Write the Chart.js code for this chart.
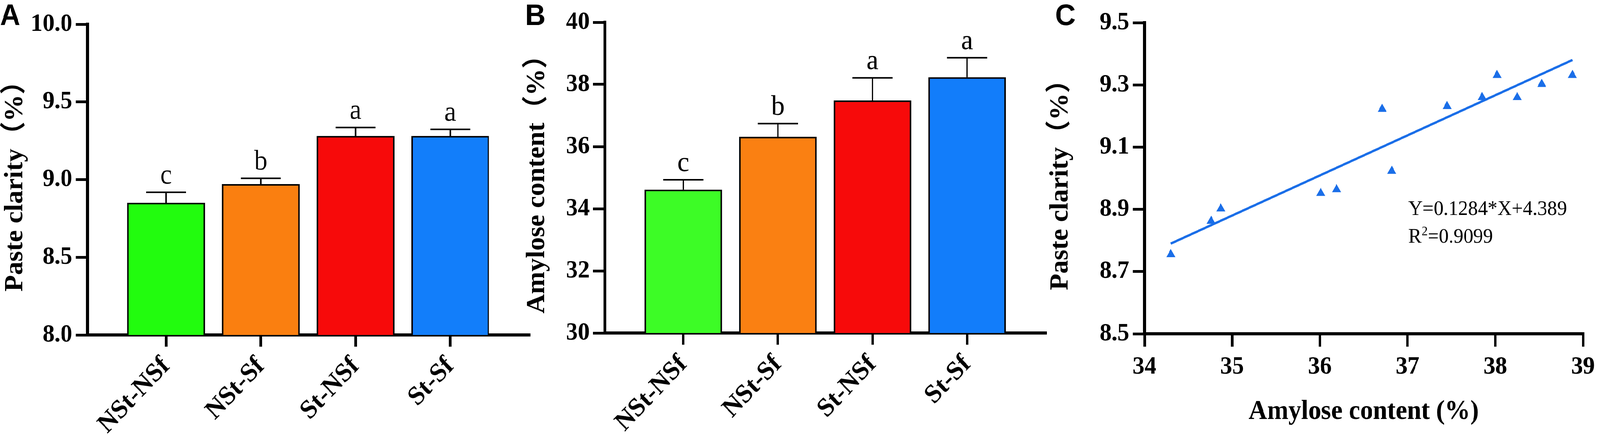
<!DOCTYPE html>
<html>
<head>
<meta charset="utf-8">
<script src="https://cdn.jsdelivr.net/npm/chart.js@4.4.1/dist/chart.umd.min.js"></script>
<style>
  html, body { margin: 0; padding: 0; background: #fff; overflow: hidden; }
  #sheet { width: 4317px; height: 1113px; position: relative; transform-origin: 0 0; }
  canvas { position: absolute; top: 0; }
</style>
</head>
<body>
<div id="sheet">
  <canvas id="chartA" width="1445" height="1113" style="left:0px"></canvas>
  <canvas id="chartB" width="1440" height="1113" style="left:1400px"></canvas>
  <canvas id="chartC" width="1497" height="1113" style="left:2820px"></canvas>
</div>
<script>
// treatments
const treatments = ['NSt-NSf', 'NSt-Sf', 'St-NSf', 'St-Sf'];

// panel A: paste clarity (%)
const clarityMean = [8.85, 8.97, 9.28, 9.28];
const claritySD = [0.068, 0.038, 0.055, 0.043];
const clarityLetters = ['c', 'b', 'a', 'a'];
const clarityTicks = [8.0, 8.5, 9.0, 9.5, 10.0];

// panel B: amylose content (%)
const amyloseMean = [34.61, 36.31, 37.48, 38.23];
const amyloseSD = [0.32, 0.43, 0.73, 0.63];
const amyloseLetters = ['c', 'b', 'a', 'a'];
const amyloseTicks = [30, 32, 34, 36, 38, 40];

// panel C: scatter of amylose vs paste clarity
const scatterX = [34.30, 34.76, 34.87, 36.01, 36.19, 36.71, 36.82, 37.45, 37.85, 38.02, 38.25, 38.53, 38.88];
const scatterY = [8.755, 8.862, 8.902, 8.952, 8.964, 9.222, 9.023, 9.231, 9.26, 9.331, 9.26, 9.302, 9.331];
const fitX = [34.30, 38.88];
const fitY = [8.79, 9.38];
const scatterXTicks = [34, 35, 36, 37, 38, 39];
const scatterYTicks = [8.5, 8.7, 8.9, 9.1, 9.3, 9.5];

const barColorsA = ['#22fc0e', '#fa7f10', '#f70a0a', '#127efa'];
const barColorsB = ['#3dfc26', '#fa8012', '#f70a0a', '#127dfa'];
const dotBlue = '#1a6ee8';

// the window may be narrower than the figure; squeeze the sheet to fit
const sheetScale = Math.min(1, window.innerWidth / 4317);
document.getElementById('sheet').style.transform = 'scale(' + sheetScale + ', 1)';

const SERIF = "'Liberation Serif', 'Times New Roman', 'Noto Sans CJK SC', serif";
const SANS = "'Liberation Sans', Arial, sans-serif";
const tickFont = { family: SERIF, size: 64, weight: 'bold' };
const titleFont = { family: SERIF, size: 69, weight: 'bold' };

// error bars + significance letters
const barDecor = {
  id: 'barDecor',
  afterDatasetsDraw(chart, args, opts) {
    const ctx = chart.ctx;
    const ys = chart.scales.y;
    ctx.save();
    ctx.strokeStyle = '#000';
    ctx.fillStyle = '#000';
    ctx.lineWidth = 4;
    ctx.font = '72px ' + SERIF;
    ctx.textAlign = 'center';
    ctx.textBaseline = 'alphabetic';
    chart.getDatasetMeta(0).data.forEach((bar, i) => {
      const capY = ys.getPixelForValue(opts.mean[i] + opts.sd[i]);
      ctx.beginPath();
      ctx.moveTo(bar.x, bar.y);
      ctx.lineTo(bar.x, capY);
      ctx.moveTo(bar.x - 54, capY);
      ctx.lineTo(bar.x + 54, capY);
      ctx.stroke();
      ctx.fillText(opts.letters[i], bar.x, capY - 22);
    });
    ctx.restore();
  }
};

// panel letter
const panelTag = {
  id: 'panelTag',
  afterDraw(chart, args, opts) {
    const ctx = chart.ctx;
    ctx.save();
    ctx.fillStyle = '#000';
    ctx.font = 'bold 76px ' + SANS;
    ctx.textAlign = 'left';
    ctx.textBaseline = 'alphabetic';
    ctx.fillText(opts.text, opts.x, opts.y);
    ctx.restore();
  }
};

// regression equation
const equation = {
  id: 'equation',
  afterDraw(chart, args, opts) {
    const ctx = chart.ctx;
    ctx.save();
    ctx.fillStyle = '#000';
    ctx.textAlign = 'left';
    ctx.textBaseline = 'alphabetic';
    ctx.font = '53px ' + SERIF;
    ctx.fillText('Y=0.1284*X+4.389', opts.x, opts.y);
    ctx.fillText('R', opts.x, opts.y + 71);
    let w = ctx.measureText('R').width;
    ctx.font = '34px ' + SERIF;
    ctx.fillText('2', opts.x + w, opts.y + 52);
    w += ctx.measureText('2').width;
    ctx.font = '53px ' + SERIF;
    ctx.fillText('=0.9099', opts.x + w, opts.y + 71);
    ctx.restore();
  }
};

function axisGrid(len) {
  return { drawOnChartArea: false, drawTicks: true, offset: false, color: '#000', lineWidth: 7, tickLength: len };
}
const axisBorder = { display: true, color: '#000', width: 8 };

function barChart(id, mean, sd, letters, colors, yTicks, yTitle, opts) {
  return new Chart(document.getElementById(id), {
    type: 'bar',
    data: {
      datasets: [{
        data: mean.map((v, i) => ({ x: i, y: v })),
        backgroundColor: colors,
        borderColor: '#000',
        borderWidth: 4,
        barThickness: 209
      }]
    },
    options: {
      responsive: false,
      animation: false,
      devicePixelRatio: 1,
      layout: { padding: { top: opts.top, right: opts.right, left: 0, bottom: 0 } },
      plugins: {
        legend: { display: false },
        tooltip: { enabled: false },
        barDecor: { mean: mean, sd: sd, letters: letters },
        panelTag: { text: opts.tag, x: opts.tagX, y: 64 }
      },
      scales: {
        x: {
          type: 'linear',
          offset: false,
          min: -0.83,
          max: 3.83,
          grid: axisGrid(30),
          border: axisBorder,
          afterBuildTicks: s => { s.ticks = treatments.map((t, i) => ({ value: i })); },
          afterFit: s => { s.height = opts.xh; },
          ticks: {
            autoSkip: false,
            minRotation: 45,
            maxRotation: 45,
            padding: 11,
            color: '#000',
            font: { family: SERIF, size: 68, weight: 'bold' },
            callback: (v, i) => treatments[i]
          }
        },
        y: {
          min: yTicks[0],
          max: yTicks[yTicks.length - 1],
          grid: axisGrid(32),
          border: axisBorder,
          afterBuildTicks: s => { s.ticks = yTicks.map(v => ({ value: v })); },
          afterFit: s => { s.width = opts.yw; },
          ticks: {
            padding: 9,
            color: '#000',
            font: tickFont,
            callback: v => opts.fmt(v)
          },
          title: {
            display: true,
            text: yTitle,
            color: '#000',
            font: titleFont,
            padding: { top: opts.titlePad, bottom: 0 }
          }
        }
      }
    },
    plugins: [barDecor, panelTag]
  });
}

barChart('chartA', clarityMean, claritySD, clarityLetters, barColorsA, clarityTicks,
  'Paste clarity（%）',
  { top: 62, right: 18, yw: 236, xh: 256, tag: 'A', tagX: 0, titlePad: 1, fmt: v => v.toFixed(1) });

barChart('chartB', amyloseMean, amyloseSD, amyloseLetters, barColorsB, amyloseTicks,
  'Amylose content（%）',
  { top: 57, right: 19, yw: 232, xh: 261, tag: 'B', tagX: 17, titlePad: 9, fmt: v => String(v) });

new Chart(document.getElementById('chartC'), {
  type: 'scatter',
  data: {
    datasets: [
      {
        data: scatterX.map((x, i) => ({ x: x, y: scatterY[i] })),
        pointStyle: 'triangle',
        pointRadius: 14,
        backgroundColor: dotBlue,
        borderColor: dotBlue,
        borderWidth: 0,
        order: 0
      },
      {
        data: fitX.map((x, i) => ({ x: x, y: fitY[i] })),
        showLine: true,
        borderColor: dotBlue,
        borderWidth: 6,
        pointRadius: 0,
        order: 1
      }
    ]
  },
  options: {
    responsive: false,
    animation: false,
    devicePixelRatio: 1,
    layout: { padding: { top: 58, right: 39, left: 0, bottom: 0 } },
    plugins: {
      legend: { display: false },
      tooltip: { enabled: false },
      panelTag: { text: 'C', x: 27, y: 64 },
      equation: { x: 980, y: 550 }
    },
    scales: {
      x: {
        type: 'linear',
        min: 34,
        max: 39,
        grid: axisGrid(33),
        border: axisBorder,
        afterBuildTicks: s => { s.ticks = scatterXTicks.map(v => ({ value: v })); },
        afterFit: s => { s.height = 259; },
        ticks: { padding: 14, color: '#000', font: tickFont, callback: v => String(v) },
        title: {
          display: true,
          text: 'Amylose content (%)',
          color: '#000',
          font: titleFont,
          padding: { top: 0, bottom: 17 }
        }
      },
      y: {
        min: 8.5,
        max: 9.5,
        grid: axisGrid(32),
        border: axisBorder,
        afterBuildTicks: s => { s.ticks = scatterYTicks.map(v => ({ value: v })); },
        afterFit: s => { s.width = 268; },
        ticks: { padding: 9, color: '#000', font: tickFont, callback: v => v.toFixed(1) },
        title: {
          display: true,
          text: 'Paste clarity（%）',
          color: '#000',
          font: titleFont,
          padding: { top: 1, bottom: 0 }
        }
      }
    }
  },
  plugins: [panelTag, equation]
});
</script>
</body>
</html>
